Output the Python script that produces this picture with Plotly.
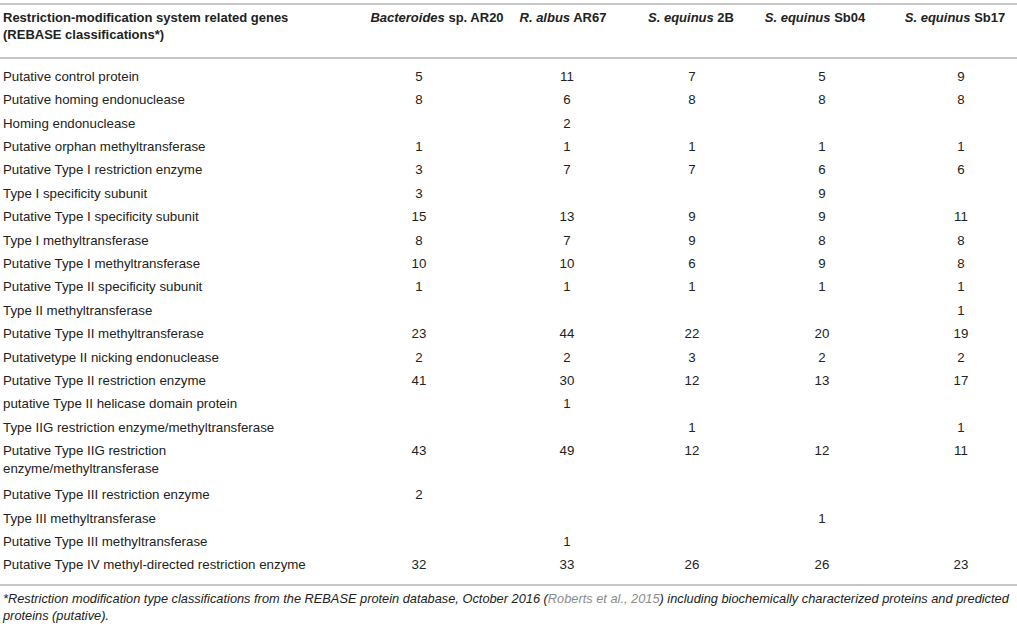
import plotly.graph_objects as go

# ---------------- data ----------------
genes = [
    "Putative control protein",
    "Putative homing endonuclease",
    "Homing endonuclease",
    "Putative orphan methyltransferase",
    "Putative Type I restriction enzyme",
    "Type I specificity subunit",
    "Putative Type I specificity subunit",
    "Type I methyltransferase",
    "Putative Type I methyltransferase",
    "Putative Type II specificity subunit",
    "Type II methyltransferase",
    "Putative Type II methyltransferase",
    "Putativetype II nicking endonuclease",
    "Putative Type II restriction enzyme",
    "putative Type II helicase domain protein",
    "Type IIG restriction enzyme/methyltransferase",
    "Putative Type IIG restriction<br>enzyme/methyltransferase",
    "Putative Type III restriction enzyme",
    "Type III methyltransferase",
    "Putative Type III methyltransferase",
    "Putative Type IV methyl-directed restriction enzyme",
]

strain_headers = [
    "<b><i>Bacteroides</i> sp. AR20</b>",
    "<b><i>R. albus</i> AR67</b>",
    "<b><i>S. equinus</i> 2B</b>",
    "<b><i>S. equinus</i> Sb04</b>",
    "<b><i>S. equinus</i> Sb17</b>",
]
gene_header = "<b>Restriction-modification system related genes<br>(REBASE classifications*)</b>"

bacteroides_ar20 = [5, 8, None, 1, 3, 3, 15, 8, 10, 1, None, 23, 2, 41, None, None, 43, 2, None, None, 32]
r_albus_ar67     = [11, 6, 2, 1, 7, None, 13, 7, 10, 1, None, 44, 2, 30, 1, None, 49, None, None, 1, 33]
s_equinus_2b     = [7, 8, None, 1, 7, None, 9, 9, 6, 1, None, 22, 3, 12, None, 1, 12, None, None, None, 26]
s_equinus_sb04   = [5, 8, None, 1, 6, 9, 9, 8, 9, 1, None, 20, 2, 13, None, None, 12, None, 1, None, 26]
s_equinus_sb17   = [9, 8, None, 1, 6, None, 11, 8, 8, 1, 1, 19, 2, 17, None, 1, 11, None, None, None, 23]

footnote = ("<i>*Restriction modification type classifications from the REBASE protein database, October 2016 "
            "(<span style='color:#8c8c8c'>Roberts et al., 2015</span>) including biochemically characterized proteins and predicted"
            "<br>proteins (putative).</i>")

# ---------------- layout helpers ----------------
W, H = 1017, 627
FONT = "Liberation Sans, Arial, Helvetica, sans-serif"
TXT = "#222222"
FS = 13.3
HFS = 13
FNS = 12.8

series = [bacteroides_ar20, r_albus_ar67, s_equinus_2b, s_equinus_sb04, s_equinus_sb17]
num_x = [419, 567, 692, 822, 961]
head_x = [437, 563, 691, 815, 955]

row_h = 23.4
extra_line = 20.5
first_y = 77.5
line_h = 17.3
head_y = 18.5

first_line_y = []  # y of first text line per row
label_y = []
y = first_y
for g in genes:
    n = g.count("<br>") + 1
    first_line_y.append(y)
    label_y.append(y + (n - 1) * line_h / 2)
    y += row_h + (n - 1) * extra_line

fig = go.Figure()

# gene labels
fig.add_trace(go.Scatter(
    x=[3] * len(genes), y=label_y, text=genes, mode="text",
    textposition="middle right",
    textfont=dict(family=FONT, size=FS, color=TXT),
    hoverinfo="skip", showlegend=False,
))

# values
for vals, xc in zip(series, num_x):
    ys = [yy for v, yy in zip(vals, first_line_y) if v is not None]
    ts = [str(v) for v in vals if v is not None]
    fig.add_trace(go.Scatter(
        x=[xc] * len(ts), y=ys, text=ts, mode="text",
        textposition="middle center",
        textfont=dict(family=FONT, size=FS, color=TXT),
        hoverinfo="skip", showlegend=False,
    ))

# headers
fig.add_trace(go.Scatter(
    x=[3], y=[head_y + 17 / 2], text=[gene_header], mode="text",
    textposition="middle right",
    textfont=dict(family=FONT, size=HFS, color=TXT),
    hoverinfo="skip", showlegend=False,
))
fig.add_trace(go.Scatter(
    x=head_x, y=[head_y] * len(head_x), text=strain_headers, mode="text",
    textposition="middle center",
    textfont=dict(family=FONT, size=HFS, color=TXT),
    hoverinfo="skip", showlegend=False,
))

# footnote
fig.add_trace(go.Scatter(
    x=[3], y=[600 + 17 / 2], text=[footnote], mode="text",
    textposition="middle right",
    textfont=dict(family=FONT, size=FNS, color=TXT),
    hoverinfo="skip", showlegend=False,
))

rule = dict(color="#b5b5b5", width=1.5)
for yy in (4, 58, 585):
    fig.add_shape(type="line", xref="x", yref="y", x0=0, x1=W, y0=yy, y1=yy, line=rule, layer="below")

fig.update_layout(
    width=W, height=H,
    margin=dict(l=0, r=0, t=0, b=0),
    paper_bgcolor="white", plot_bgcolor="white",
    xaxis=dict(range=[0, W], visible=False, fixedrange=True),
    yaxis=dict(range=[H, 0], visible=False, fixedrange=True),
    font=dict(family=FONT, color=TXT),
)

fig.write_html("out.html", config={"displayModeBar": False},
               post_script="document.body.style.margin='0';document.body.style.overflow='hidden';")
